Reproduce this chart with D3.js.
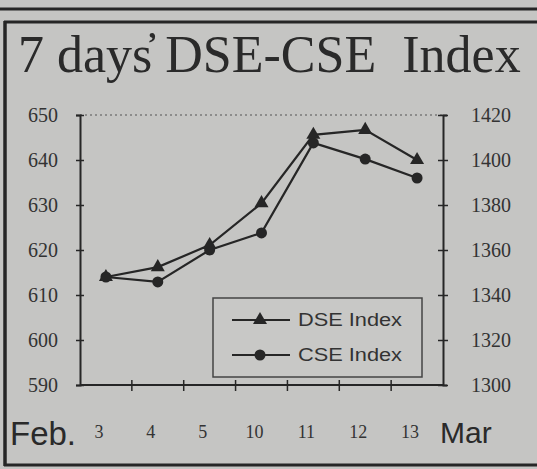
<!DOCTYPE html>
<html>
<head>
<meta charset="utf-8">
<script src="https://cdn.jsdelivr.net/npm/d3@7"></script>
<style>
body { margin: 0; background: #c5c5c3; }
svg { display: block; }
</style>
</head>
<body>
<div id="chart"></div>
<script>
var w = 537,
h = 469;

// Data
var days = ["3", "4", "5", "10", "11", "12", "13"];
var dse = [614, 616.2, 621.1, 630.4, 645.6, 646.7, 640];
var cse = [1348, 1345.8, 1360, 1367.6, 1407.6, 1400.4, 1392];
var leftTicks = [590, 600, 610, 620, 630, 640, 650];
var rightTicks = [1300, 1320, 1340, 1360, 1380, 1400, 1420];
var legendNames = ["DSE Index", "CSE Index"];

var ink = "#262626";
var plot = {left: 80, right: 443, top: 115, bottom: 385};

var svg = d3.select("#chart").append("svg")
  .attr("width", w)
  .attr("height", h);

svg.append("rect").attr("width", w).attr("height", h).attr("fill", "#c5c5c3");

// frame lines of the newspaper box
svg.append("line").attr("x1", 0).attr("x2", w).attr("y1", 9).attr("y2", 9)
  .attr("stroke", ink).attr("stroke-width", 3);
svg.append("line").attr("x1", 4).attr("x2", w).attr("y1", 22).attr("y2", 22)
  .attr("stroke", ink).attr("stroke-width", 3);
svg.append("line").attr("x1", 5).attr("x2", 5).attr("y1", 21).attr("y2", 466)
  .attr("stroke", ink).attr("stroke-width", 3.5);
svg.append("line").attr("x1", 4).attr("x2", w).attr("y1", 465).attr("y2", 465)
  .attr("stroke", ink).attr("stroke-width", 3);

// title (apostrophe drawn above the s, as in the print)
svg.append("text")
  .attr("x", 18)
  .attr("y", 72)
  .attr("font-family", "Liberation Serif, Times New Roman, serif")
  .attr("font-size", "52px")
  .attr("fill", "#2a2a2a")
  .style("white-space", "pre")
  .text("7 days\u0313 DSE-CSE  Index");

// scales
var x = d3.scaleBand().domain(days).range([plot.left, plot.right]);
var yL = d3.scaleLinear().domain([590, 650]).range([plot.bottom, plot.top]);
var yR = d3.scaleLinear().domain([1300, 1420]).range([plot.bottom, plot.top]);
var cx = function(d) { return x(d) + x.bandwidth() / 2; };

// dotted top border
svg.append("line")
  .attr("x1", plot.left).attr("x2", plot.right)
  .attr("y1", plot.top).attr("y2", plot.top)
  .attr("stroke", "#555").attr("stroke-width", 1.2)
  .attr("stroke-dasharray", "2,3");

// left axis
var gL = svg.append("g").attr("transform", "translate(" + plot.left + ",0)")
  .call(d3.axisLeft(yL).tickValues(leftTicks).tickSize(4).tickPadding(18).tickFormat(d3.format("d")));
gL.select(".domain").attr("stroke", ink).attr("stroke-width", 2);
gL.selectAll(".tick line").attr("x2", 4).attr("x1", -4).attr("stroke", ink).attr("stroke-width", 1.5);
gL.selectAll(".tick text")
  .attr("font-family", "Liberation Serif, serif")
  .attr("font-size", "20px")
  .attr("fill", "#333");

// right axis
var gR = svg.append("g").attr("transform", "translate(" + plot.right + ",0)")
  .call(d3.axisRight(yR).tickValues(rightTicks).tickSize(4).tickPadding(24).tickFormat(d3.format("d")));
gR.select(".domain").attr("stroke", ink).attr("stroke-width", 2);
gR.selectAll(".tick line").attr("x1", -5).attr("x2", 5).attr("stroke", ink).attr("stroke-width", 1.5);
gR.selectAll(".tick text")
  .attr("font-family", "Liberation Serif, serif")
  .attr("font-size", "20px")
  .attr("fill", "#333");

// bottom axis
var gB = svg.append("g").attr("transform", "translate(0," + plot.bottom + ")");
gB.append("line").attr("x1", plot.left).attr("x2", plot.right)
  .attr("stroke", ink).attr("stroke-width", 2);
gB.selectAll(".xt").data(days.slice(1)).enter().append("line")
  .attr("class", "xt")
  .attr("x1", function(d) { return x(d); })
  .attr("x2", function(d) { return x(d); })
  .attr("y1", -5).attr("y2", 6)
  .attr("stroke", ink).attr("stroke-width", 1.5);
gB.selectAll(".xl").data(days).enter().append("text")
  .attr("class", "xl")
  .attr("x", function(d) { return cx(d) - 7; })
  .attr("y", 53)
  .attr("text-anchor", "middle")
  .attr("font-family", "Liberation Serif, serif")
  .attr("font-size", "18px")
  .attr("fill", "#333")
  .text(function(d) { return d; });

svg.append("text").attr("x", 10).attr("y", 445)
  .attr("font-family", "Liberation Sans, Arial, sans-serif")
  .attr("font-size", "33px").attr("fill", "#2a2a2a").text("Feb.");
svg.append("text").attr("x", 440).attr("y", 443)
  .attr("font-family", "Liberation Sans, Arial, sans-serif")
  .attr("font-size", "30px").attr("fill", "#2a2a2a").text("Mar");

// lines
var lineL = d3.line().x(function(d, i) { return cx(days[i]); }).y(function(d) { return yL(d); });
var lineR = d3.line().x(function(d, i) { return cx(days[i]); }).y(function(d) { return yR(d); });

svg.append("path").datum(cse).attr("d", lineR)
  .attr("fill", "none").attr("stroke", ink).attr("stroke-width", 2.2);
svg.append("path").datum(dse).attr("d", lineL)
  .attr("fill", "none").attr("stroke", ink).attr("stroke-width", 2.2);

var tri = d3.symbol().type(d3.symbolTriangle).size(85);

svg.selectAll(".cpt").data(cse).enter().append("circle")
  .attr("class", "cpt")
  .attr("cx", function(d, i) { return cx(days[i]); })
  .attr("cy", function(d) { return yR(d); })
  .attr("r", 5.5)
  .attr("fill", ink);
svg.selectAll(".dpt").data(dse).enter().append("path")
  .attr("class", "dpt")
  .attr("d", tri)
  .attr("transform", function(d, i) { return "translate(" + cx(days[i]) + "," + yL(d) + ")"; })
  .attr("fill", ink);

// legend
var legend = svg.append("g").attr("transform", "translate(213,298)");
legend.append("rect").attr("width", 209).attr("height", 79)
  .attr("fill", "#c8c8c6").attr("stroke", "#444").attr("stroke-width", 1.5);
var items = legend.selectAll(".item").data(legendNames).enter().append("g")
  .attr("class", "item")
  .attr("transform", function(d, i) { return "translate(0," + (22 + i * 35) + ")"; });
items.append("line").attr("x1", 19).attr("x2", 77)
  .attr("stroke", ink).attr("stroke-width", 2);
items.each(function(d, i) {
  var g = d3.select(this);
  if (i === 0) {
    g.append("path").attr("d", tri).attr("transform", "translate(47,0)").attr("fill", ink);
  } else {
    g.append("circle").attr("cx", 47).attr("r", 5.5).attr("fill", ink);
  }
});
items.append("text").attr("x", 85).attr("y", 6)
  .attr("font-family", "Liberation Sans, Arial, sans-serif")
  .attr("font-size", "18px")
  .attr("textLength", 104)
  .attr("lengthAdjust", "spacingAndGlyphs")
  .attr("fill", "#333")
  .text(function(d) { return d; });
</script>
</body>
</html>
